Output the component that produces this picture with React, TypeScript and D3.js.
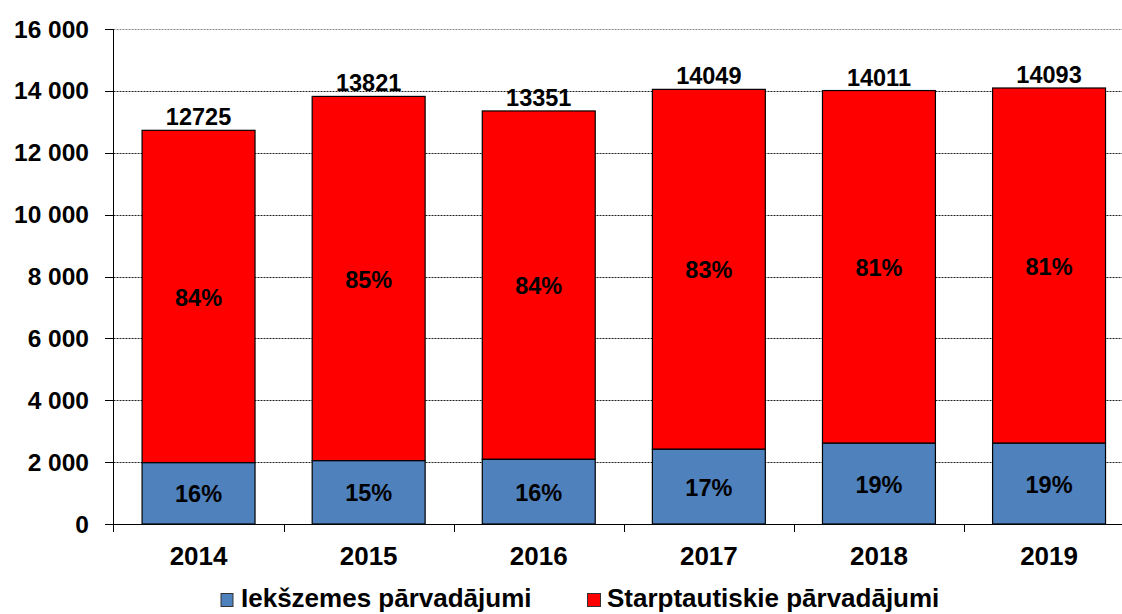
import React from "react";
import * as d3 from "d3";

const years = ["2014", "2015", "2016", "2017", "2018", "2019"];
const totals = [12725, 13821, 13351, 14049, 14011, 14093];
const domestic = [1980, 2045, 2090, 2415, 2610, 2610];
const domesticPct = ["16%", "15%", "16%", "17%", "19%", "19%"];
const intlPct = ["84%", "85%", "84%", "83%", "81%", "81%"];
const yTicks = [0, 2000, 4000, 6000, 8000, 10000, 12000, 14000, 16000];
const legendLabels = ["Iekšzemes pārvadājumi", "Starptautiskie pārvadājumi"];

const W = 1122;
const H = 614;
const BLUE = "#4F81BD";
const RED = "#FF0000";
const FONT = "'Liberation Sans', Arial, sans-serif";

export default function App() {
  const left = 113.5;
  const right = left + 6 * 170.1;
  const y = d3.scaleLinear().domain([0, 16000]).range([524, 29]);
  const x = d3
    .scaleBand<string>()
    .domain(years)
    .range([left, right])
    .paddingInner(0.336)
    .paddingOuter(0.168);
  const step = x.step();
  const fmt = (v: number) => (v === 0 ? "0" : d3.format(",")(v).replace(/,/g, " "));

  return (
    <svg
      width={W}
      height={H}
      style={{ position: "absolute", left: 0, top: 0, background: "#fff" }}
      fontFamily={FONT}
      fontWeight="bold"
    >
      {/* gridlines */}
      {yTicks
        .filter((t) => t > 0)
        .map((t) => (
          <line
            key={"g" + t}
            x1={left}
            x2={W}
            y1={Math.round(y(t)) + 0.5}
            y2={Math.round(y(t)) + 0.5}
            stroke={t === 16000 ? "#888" : "#222"}
            strokeWidth={1}
            strokeDasharray="2,1"
          />
        ))}
      {/* y ticks and labels */}
      {yTicks.map((t) => (
        <g key={"t" + t}>
          <line
            x1={105}
            x2={left}
            y1={Math.round(y(t)) + 0.5}
            y2={Math.round(y(t)) + 0.5}
            stroke="#000"
          />
          <text x={89} y={y(t) + 8.5} textAnchor="end" fontSize={24.5} fill="#000">
            {fmt(t)}
          </text>
        </g>
      ))}
      {/* bars */}
      {years.map((yr, i) => {
        const bx = x(yr)!;
        const bw = x.bandwidth();
        const yDom = y(domestic[i]);
        const yTot = y(totals[i]);
        return (
          <g key={yr}>
            <rect x={bx} y={yTot} width={bw} height={yDom - yTot} fill={RED} stroke="#000" strokeWidth={1.2} />
            <rect x={bx} y={yDom} width={bw} height={y(0) - yDom} fill={BLUE} stroke="#000" strokeWidth={1.2} />
            <text x={bx + bw / 2} y={yTot - 5} textAnchor="middle" fontSize={23.5} fill="#000">
              {totals[i]}
            </text>
            <text
              x={bx + bw / 2}
              y={(yTot + yDom) / 2 + 9}
              textAnchor="middle"
              fontSize={23.5}
              fill="#000"
            >
              {intlPct[i]}
            </text>
            <text
              x={bx + bw / 2}
              y={(yDom + y(0)) / 2 + 9}
              textAnchor="middle"
              fontSize={23.5}
              fill="#000"
            >
              {domesticPct[i]}
            </text>
            <text x={bx + bw / 2} y={565} textAnchor="middle" fontSize={26} fill="#000">
              {yr}
            </text>
          </g>
        );
      })}
      {/* axes */}
      <line x1={left} x2={left} y1={29} y2={524} stroke="#000" />
      <line x1={left} x2={W} y1={524.5} y2={524.5} stroke="#000" />
      {years.map((yr, i) => (
        <line
          key={"xt" + yr}
          x1={Math.round(left + step * (i + 1)) + 0.5}
          x2={Math.round(left + step * (i + 1)) + 0.5}
          y1={524}
          y2={532}
          stroke="#000"
        />
      ))}
      <line x1={left} x2={left} y1={524} y2={532} stroke="#000" />
      {/* legend */}
      <rect x={221} y={593.5} width={12} height={13} fill={BLUE} stroke="#333" strokeWidth={1} />
      <text x={241} y={607} fontSize={26} fill="#000">
        {legendLabels[0]}
      </text>
      <rect x={587.5} y={593.5} width={13} height={13} fill={RED} stroke="#333" strokeWidth={1} />
      <text x={607} y={607} fontSize={26} fill="#000">
        {legendLabels[1]}
      </text>
    </svg>
  );
}
